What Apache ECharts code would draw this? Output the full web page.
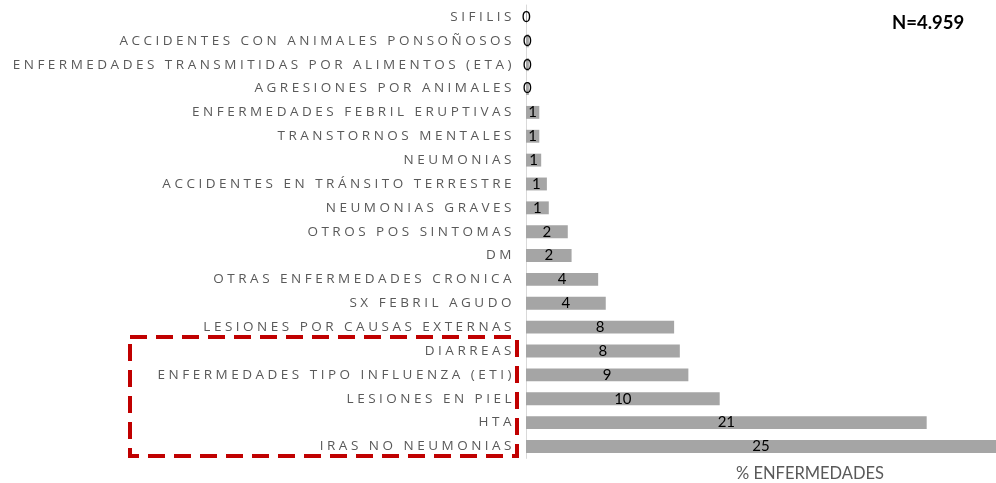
<!DOCTYPE html>
<html>
<head>
<meta charset="utf-8">
<script src="https://cdn.jsdelivr.net/npm/echarts@6/dist/echarts.min.js"></script>
<style>html,body{margin:0;padding:0;background:#fff}#c{width:996px;height:483px}</style>
</head>
<body>
<div id="c"></div>
<script>
const categories = [
  'SIFILIS',
  'ACCIDENTES CON ANIMALES PONSOÑOSOS',
  'ENFERMEDADES TRANSMITIDAS POR ALIMENTOS (ETA)',
  'AGRESIONES POR ANIMALES',
  'ENFERMEDADES FEBRIL ERUPTIVAS',
  'TRANSTORNOS MENTALES',
  'NEUMONIAS',
  'ACCIDENTES EN TRÁNSITO TERRESTRE',
  'NEUMONIAS GRAVES',
  'OTROS POS SINTOMAS',
  'DM',
  'OTRAS ENFERMEDADES CRONICA',
  'SX FEBRIL AGUDO',
  'LESIONES POR CAUSAS EXTERNAS',
  'DIARREAS',
  'ENFERMEDADES TIPO INFLUENZA (ETI)',
  'LESIONES EN PIEL',
  'HTA',
  'IRAS NO NEUMONIAS'
];
const values = [0.05, 0.15, 0.15, 0.15, 0.7, 0.7, 0.8, 1.1, 1.2, 2.2, 2.4, 3.8, 4.2, 7.8, 8.1, 8.55, 10.2, 21.1, 24.9];
const seriesName = '% ENFERMEDADES';
const totalText = 'N=4.959';

// letter spacing for axis category labels (canvas property)
(function(){
  const proto = CanvasRenderingContext2D.prototype;
  const orig = proto.fillText;
  proto.fillText = function(){
    if ('letterSpacing' in this) {
      this.letterSpacing = (this.font && this.font.indexOf('Open Sans') >= 0) ? '3.5px' : '0px';
    }
    return orig.apply(this, arguments);
  };
})();

const chart = echarts.init(document.getElementById('c'), null, {renderer: 'canvas'});
chart.setOption({
  animation: false,
  title: {
    text: totalText,
    left: 887, top: 9,
    textStyle: {fontFamily: 'Lato', fontWeight: 'bold', fontSize: 18.5, color: '#000'}
  },
  grid: {left: 526, right: 0, top: 5, bottom: 24.6, containLabel: false, outerBoundsMode: 'none'},
  xAxis: {
    type: 'value', min: 0, max: 24.75,
    axisLine: {show: false}, axisTick: {show: false}, axisLabel: {show: false}, splitLine: {show: false},
    name: seriesName, nameLocation: 'middle', nameGap: 7,
    nameTextStyle: {fontFamily: 'Lato', fontSize: 16.5, color: '#595959', padding: [0, 0, 0, 98]}
  },
  yAxis: {
    type: 'category', data: categories, inverse: true,
    axisLine: {show: true, lineStyle: {color: '#d9d9d9', width: 1}},
    axisTick: {show: false},
    axisLabel: {interval: 0, margin: 11, fontFamily: 'Open Sans', fontSize: 13.5, color: '#595959'}
  },
  series: [{
    type: 'bar', name: seriesName, data: values, barWidth: '54%',
    itemStyle: {color: '#a5a5a5'},
    label: {show: true, position: 'inside', fontFamily: 'Lato', fontSize: 15, color: '#000',
      formatter: p => String(Math.round(p.value))}
  }],
  graphic: [{
    type: 'rect', z: 100,
    shape: {x: 130, y: 337, width: 387, height: 119},
    style: {fill: 'none', stroke: '#c00000', lineWidth: 4, lineDash: [17, 9]}
  }]
});
</script>
</body>
</html>
